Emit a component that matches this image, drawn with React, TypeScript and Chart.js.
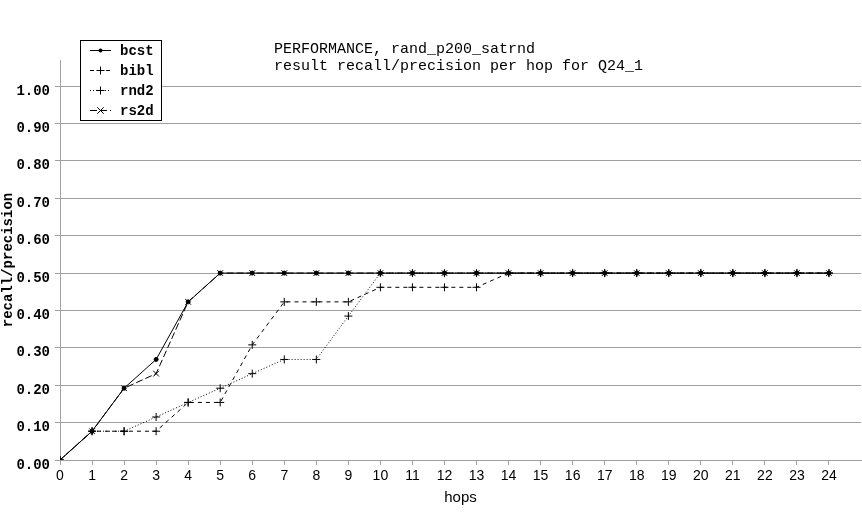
import React, { useEffect, useRef } from "react";
import { Chart, registerables } from "chart.js";

Chart.register(...registerables);

const hops = [0, 1, 2, 3, 4, 5, 6, 7, 8, 9, 10, 11, 12, 13, 14, 15, 16, 17, 18, 19, 20, 21, 22, 23, 24];
const bcst = [0, 0.077, 0.192, 0.269, 0.423, 0.5, 0.5, 0.5, 0.5, 0.5, 0.5, 0.5, 0.5, 0.5, 0.5, 0.5, 0.5, 0.5, 0.5, 0.5, 0.5, 0.5, 0.5, 0.5, 0.5];
const bibl = [0, 0.077, 0.077, 0.077, 0.154, 0.154, 0.308, 0.423, 0.423, 0.423, 0.462, 0.462, 0.462, 0.462, 0.5, 0.5, 0.5, 0.5, 0.5, 0.5, 0.5, 0.5, 0.5, 0.5, 0.5];
const rnd2 = [0, 0.077, 0.077, 0.115, 0.154, 0.192, 0.231, 0.269, 0.269, 0.385, 0.5, 0.5, 0.5, 0.5, 0.5, 0.5, 0.5, 0.5, 0.5, 0.5, 0.5, 0.5, 0.5, 0.5, 0.5];
const rs2d = [0, 0.077, 0.192, 0.231, 0.423, 0.5, 0.5, 0.5, 0.5, 0.5, 0.5, 0.5, 0.5, 0.5, 0.5, 0.5, 0.5, 0.5, 0.5, 0.5, 0.5, 0.5, 0.5, 0.5, 0.5];
const yTicks = [0, 0.1, 0.2, 0.3, 0.4, 0.5, 0.6, 0.7, 0.8, 0.9, 1.0];
const seriesNames = ["bcst", "bibl", "rnd2", "rs2d"];
const titleLines = ["PERFORMANCE, rand_p200_satrnd", "result recall/precision per hop for Q24_1"];

const GRID = "#a0a0a0";
const MONO = '"Liberation Mono", "DejaVu Sans Mono", monospace';
const SANS = '"Liberation Sans", Arial, sans-serif';

const styles = [
  { dash: [] as number[], point: "circle", radius: 2 },
  { dash: [4, 4], point: "cross", radius: 4 },
  { dash: [1, 2], point: "cross", radius: 4 },
  { dash: [7, 3], point: "crossRot", radius: 4 },
];

function drawMarker(ctx: CanvasRenderingContext2D, kind: string, x: number, y: number, r: number) {
  ctx.save();
  ctx.setLineDash([]);
  ctx.strokeStyle = "#000";
  ctx.fillStyle = "#000";
  ctx.lineWidth = 1;
  ctx.beginPath();
  if (kind === "circle") {
    ctx.arc(x, y, r, 0, Math.PI * 2);
    ctx.fill();
  } else if (kind === "cross") {
    ctx.moveTo(x - r, y);
    ctx.lineTo(x + r, y);
    ctx.moveTo(x, y - r);
    ctx.lineTo(x, y + r);
    ctx.stroke();
  } else {
    const d = r * 0.8;
    ctx.moveTo(x - d, y - d);
    ctx.lineTo(x + d, y + d);
    ctx.moveTo(x - d, y + d);
    ctx.lineTo(x + d, y - d);
    ctx.stroke();
  }
  ctx.restore();
}

const decorPlugin = {
  id: "decor",
  afterDraw(chart: any) {
    const ctx: CanvasRenderingContext2D = chart.ctx;
    ctx.save();
    // title
    ctx.fillStyle = "#000";
    ctx.font = `15px ${MONO}`;
    ctx.textAlign = "left";
    ctx.textBaseline = "alphabetic";
    ctx.fillText(titleLines[0], 274, 53);
    ctx.fillText(titleLines[1], 274, 70);
    // legend
    const bx = 80.5, by = 40.5, bw = 81, bh = 80;
    ctx.fillStyle = "#fff";
    ctx.fillRect(bx, by, bw, bh);
    ctx.strokeStyle = "#000";
    ctx.lineWidth = 1;
    ctx.strokeRect(bx, by, bw, bh);
    seriesNames.forEach((name, i) => {
      const y = 50.5 + i * 20;
      const st = styles[i];
      ctx.save();
      ctx.strokeStyle = "#000";
      ctx.lineWidth = 1;
      ctx.setLineDash(st.dash);
      ctx.beginPath();
      ctx.moveTo(90, y);
      ctx.lineTo(111, y);
      ctx.stroke();
      ctx.restore();
      drawMarker(ctx, st.point, 100.5, y, st.radius);
      ctx.fillStyle = "#000";
      ctx.font = `bold 14px ${MONO}`;
      ctx.textBaseline = "middle";
      ctx.fillText(name, 120, y + 1);
    });
    ctx.restore();
  },
};

export default function App() {
  const ref = useRef<HTMLCanvasElement | null>(null);
  useEffect(() => {
    if (!ref.current) return;
    const data = [bcst, bibl, rnd2, rs2d];
    const chart = new Chart(ref.current, {
      type: "line",
      data: {
        labels: hops,
        datasets: seriesNames.map((name, i) => ({
          label: name,
          data: hops.map((h, j) => ({ x: h, y: data[i][j] })),
          borderColor: "#000",
          backgroundColor: "#000",
          borderWidth: 1,
          borderDash: styles[i].dash,
          pointStyle: styles[i].point as any,
          pointRadius: styles[i].radius,
          pointBorderWidth: 1,
          pointBorderColor: "#000",
          pointBackgroundColor: "#000",
          tension: 0,
          fill: false,
        })),
      },
      options: {
        responsive: false,
        animation: false,
        devicePixelRatio: 1,
        layout: { padding: { top: 60, right: 1, left: 0, bottom: 0 } },
        plugins: { legend: { display: false }, title: { display: false }, tooltip: { enabled: false } },
        scales: {
          x: {
            type: "linear",
            min: 0,
            max: 25,
            afterBuildTicks: (s: any) => {
              s.ticks = hops.map((v) => ({ value: v }));
            },
            afterFit: (s: any) => {
              s.height = 60;
              s.paddingLeft = 0;
              s.paddingRight = 0;
            },
            grid: { drawOnChartArea: false, color: GRID, tickLength: 5 },
            border: { color: GRID },
            ticks: {
              color: "#000",
              font: { family: SANS, size: 14 },
              padding: 3,
              maxRotation: 0,
              autoSkip: false,
              callback: (v: any) => String(v),
            },
            title: {
              display: true,
              text: "hops",
              color: "#000",
              font: { family: SANS, size: 15 },
              padding: { top: 13, bottom: 13 },
            },
          },
          y: {
            type: "linear",
            min: 0,
            max: 1.07,
            afterBuildTicks: (s: any) => {
              s.ticks = yTicks.map((v) => ({ value: v }));
            },
            afterFit: (s: any) => {
              s.width = 60;
              s.paddingTop = 0;
              s.paddingBottom = 0;
            },
            grid: { color: GRID, tickLength: 5 },
            border: { color: GRID },
            ticks: {
              color: "#000",
              font: { family: MONO, size: 14, weight: "bold" },
              padding: 5,
              labelOffset: 5,
              callback: (v: any) => Number(v).toFixed(2),
            },
            title: {
              display: true,
              text: "recall/precision",
              color: "#000",
              font: { family: MONO, size: 14, weight: "bold" },
              padding: { top: 0, bottom: 0 },
            },
          },
        },
      },
      plugins: [decorPlugin],
    });
    return () => chart.destroy();
  }, []);
  return (
    <div style={{ position: "absolute", left: 0, top: 0, width: 862, height: 520, overflow: "hidden", background: "#fff" }}>
      <canvas ref={ref} width={866} height={520} style={{ display: "block" }} />
    </div>
  );
}
